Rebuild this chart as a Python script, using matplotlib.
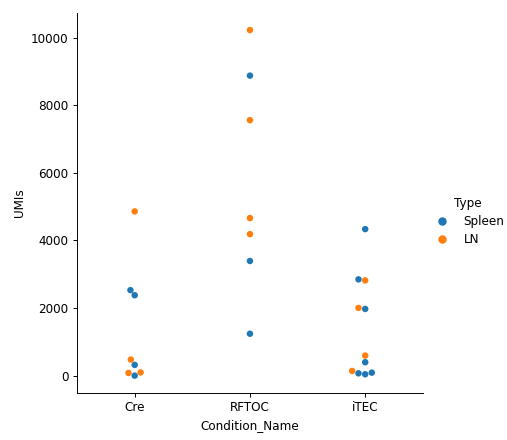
import matplotlib
matplotlib.use('Agg')
import matplotlib.pyplot as plt
import numpy as np
import pandas as pd
import seaborn as sns

# values, per condition and type
conditions = ['Cre', 'RFTOC', 'iTEC']
types = ['Spleen', 'LN']

cre_spleen = [2530, 2380, 318, 0]
cre_ln = [4860, 476, 95, 80]
rftoc_spleen = [8878, 3393, 1240]
rftoc_ln = [10227, 7560, 4663, 4187]
itec_spleen = [4336, 2848, 1974, 397, 69, 40, 89]
itec_ln = [2818, 2004, 595, 139]

rows = []
for cond, sp, ln in zip(conditions,
                        [cre_spleen, rftoc_spleen, itec_spleen],
                        [cre_ln, rftoc_ln, itec_ln]):
    rows += [(cond, v, 'Spleen') for v in sp]
    rows += [(cond, v, 'LN') for v in ln]
df = pd.DataFrame(rows, columns=['Condition_Name', 'UMIs', 'Type'])

DPI = 86.4
fig = plt.figure(figsize=(507/DPI, 440/DPI), dpi=DPI)
ax = fig.add_axes([0.152, 0.107, 0.682, 0.864])
sns.swarmplot(data=df, x='Condition_Name', y='UMIs', hue='Type',
              order=conditions, hue_order=types, size=5.4, linewidth=0,
              ax=ax)
sns.despine(ax=ax)

handles, labels = ax.get_legend_handles_labels()
ax.get_legend().remove()
fig.legend(handles, labels, title='Type', frameon=False, markerscale=1.3,
           labelspacing=0.42, loc='center left',
           bbox_to_anchor=(0.827, 0.497))

fig.savefig('out.png', dpi=DPI)
